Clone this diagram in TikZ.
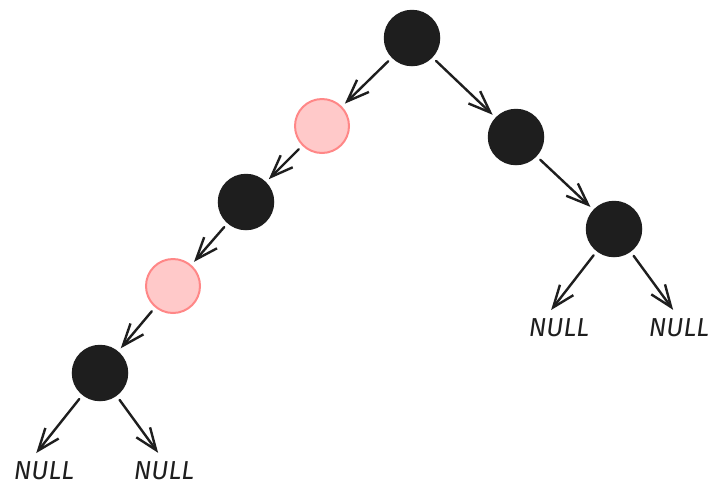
\documentclass[tikz,border=0pt]{standalone}
\usepackage{fontspec}
\setmainfont{Fira Sans}
\usetikzlibrary{arrows.meta,calc}
\definecolor{ink}{HTML}{1E1E1E}
\definecolor{pinkfill}{HTML}{FFC9C9}
\definecolor{pinkline}{HTML}{FF8787}
\tikzset{
  blacknode/.style={circle, fill=ink, draw=ink, line width=1.5pt, minimum size=55pt, inner sep=0pt},
  pinknode/.style={circle, fill=pinkfill, draw=pinkline, line width=2pt, minimum size=54pt, inner sep=0pt},
  nulltext/.style={anchor=base, inner sep=0pt, font=\fontsize{26}{30}\selectfont\itshape, text=ink},
  edge/.style={draw=ink, line width=2.4pt, line cap=round, shorten <=5pt, shorten >=4pt,
    -{Straight Barb[length=22pt, width=17pt, line width=2.4pt]}},
  nulledge/.style={edge, shorten >=10pt}
}
\begin{document}
\begin{tikzpicture}[x=1pt, y=-1pt]
\useasboundingbox (0,0) rectangle (722,499);
\node[blacknode] (root) at (412,38) {};
\node[pinknode] (p1) at (322,126) {};
\node[blacknode] (r1) at (516,137) {};
\node[blacknode] (b2) at (246,202) {};
\node[blacknode] (r2) at (614,229) {};
\node[pinknode] (p3) at (173,286) {};
\node[blacknode] (b4) at (100,373) {};
\node[nulltext] (n1) at (44,479) {NULL};
\node[nulltext] (n2) at (164,479) {NULL};
\node[nulltext] (n3) at (559,336) {NULL};
\node[nulltext] (n4) at (679,336) {NULL};
\draw[edge] (root) -- (p1);
\draw[edge] (root) -- (r1);
\draw[edge] (p1) -- (b2);
\draw[edge] (r1) -- (r2);
\draw[edge] (b2) -- (p3);
\draw[edge] (p3) -- (b4);
\draw[nulledge] (b4) -- ($(n1.north)+(-14,0)$);
\draw[nulledge] (b4) -- (n2.north);
\draw[nulledge] (r2) -- ($(n3.north)+(-14,0)$);
\draw[nulledge] (r2) -- (n4.north);
\end{tikzpicture}
\end{document}
